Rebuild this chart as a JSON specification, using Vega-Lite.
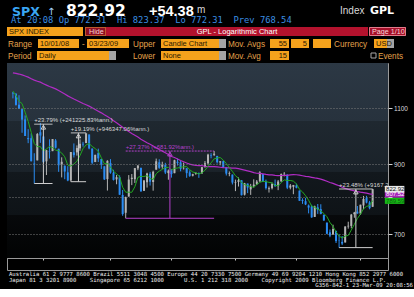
{
 "$schema": "https://vega.github.io/schema/vega-lite/v6.json",
 "background": "#000000",
 "padding": {"left": 6, "top": 0, "right": 0, "bottom": 0},
 "bounds": "flush",
 "spacing": 0,
 "config": {"view": {"stroke": null}, "font": "Liberation Sans"},
 "vconcat": [
  {
   "width": 402, "height": 63,
   "encoding": {
    "x": {"field": "x", "type": "quantitative", "scale": {"domain": [6, 408], "nice": false, "zero": false}, "axis": null},
    "y": {"field": "y", "type": "quantitative", "scale": {"domain": [0, 63], "reverse": true, "nice": false, "zero": false}, "axis": null}
   },
   "layer": [
    {
     "data": {"values": [
      {"x": 6, "x2": 82, "y": 27, "y2": 36, "k": "f"},
      {"x": 84, "x2": 105, "y": 27, "y2": 36, "k": "h"},
      {"x": 105, "x2": 367, "y": 27, "y2": 36, "k": "r"},
      {"x": 368, "x2": 405, "y": 27, "y2": 36, "k": "p"},
      {"x": 37, "x2": 78, "y": 39, "y2": 48, "k": "f"},
      {"x": 86, "x2": 128, "y": 39, "y2": 48, "k": "f"},
      {"x": 160, "x2": 218, "y": 39, "y2": 48, "k": "f"},
      {"x": 218, "x2": 225, "y": 39, "y2": 48, "k": "s"},
      {"x": 269, "x2": 288, "y": 39, "y2": 48, "k": "f"},
      {"x": 290, "x2": 308, "y": 39, "y2": 48, "k": "f"},
      {"x": 312, "x2": 330, "y": 39, "y2": 48, "k": "f"},
      {"x": 373, "x2": 386, "y": 39, "y2": 48, "k": "f"},
      {"x": 386, "x2": 393, "y": 39, "y2": 48, "k": "s"},
      {"x": 36, "x2": 108, "y": 51, "y2": 60, "k": "f"},
      {"x": 108, "x2": 115, "y": 51, "y2": 60, "k": "s"},
      {"x": 160, "x2": 218, "y": 51, "y2": 60, "k": "f"},
      {"x": 218, "x2": 225, "y": 51, "y2": 60, "k": "s"},
      {"x": 269, "x2": 288, "y": 51, "y2": 60, "k": "f"}
     ]},
     "mark": {"type": "rect"},
     "encoding": {
      "x2": {"field": "x2"}, "y2": {"field": "y2"},
      "color": {"condition": [
        {"test": "datum.k=='s'", "value": "#a4a4a4"},
        {"test": "datum.k=='r'", "value": "#b3122d"},
        {"test": "datum.k=='h'", "value": "#8c0e22"},
        {"test": "datum.k=='p'", "value": "#a50f29"}
       ], "value": "#f5a21c"}
     }
    },
    {
     "data": {"values": [{"x": 84.5, "x2": 104.5, "y": 27.5, "y2": 35.5}]},
     "mark": {"type": "rect", "filled": false, "color": "#f2a33a", "strokeDash": [1, 1], "strokeWidth": 1},
     "encoding": {"x2": {"field": "x2"}, "y2": {"field": "y2"}}
    },
    {
     "data": {"values": [{"x": 368.5, "x2": 404.5, "y": 27.5, "y2": 35.5}]},
     "mark": {"type": "rect", "filled": false, "color": "#e27a8a", "strokeWidth": 1},
     "encoding": {"x2": {"field": "x2"}, "y2": {"field": "y2"}}
    },
    {
     "data": {"values": [{"x": 370, "x2": 375, "y": 53, "y2": 58}]},
     "mark": {"type": "rect", "filled": false, "color": "#a8a8a8", "strokeWidth": 1},
     "encoding": {"x2": {"field": "x2"}, "y2": {"field": "y2"}}
    },
    {
     "data": {"values": [{"x": 11, "y": 16, "t": "SPX"}]},
     "mark": {"type": "text", "align": "left", "baseline": "alphabetic", "font": "DejaVu Sans", "fontWeight": "bold", "fontSize": 12.5, "color": "#3aa6f4"},
     "encoding": {"text": {"field": "t"}}
    },
    {
     "data": {"values": [{"x": 46, "y": 15, "t": "↑"}]},
     "mark": {"type": "text", "align": "left", "baseline": "alphabetic", "font": "DejaVu Sans", "fontSize": 10, "color": "#a6d4ff"},
     "encoding": {"text": {"field": "t"}}
    },
    {
     "data": {"values": [{"x": 65, "y": 16, "t": "822.92"}]},
     "mark": {"type": "text", "align": "left", "baseline": "alphabetic", "font": "DejaVu Sans", "fontWeight": "bold", "fontSize": 15.5, "color": "#ffffff"},
     "encoding": {"text": {"field": "t"}}
    },
    {
     "data": {"values": [{"x": 148, "y": 16, "t": "+54.38"}]},
     "mark": {"type": "text", "align": "left", "baseline": "alphabetic", "font": "Liberation Sans", "fontWeight": "bold", "fontSize": 14.5, "color": "#ffffff"},
     "encoding": {"text": {"field": "t"}}
    },
    {
     "data": {"values": [{"x": 196, "y": 13, "t": "m"}, {"x": 339, "y": 14, "t": "Index"}]},
     "mark": {"type": "text", "align": "left", "baseline": "alphabetic", "font": "Liberation Sans", "fontSize": 10, "color": "#d8d8d8"},
     "encoding": {"text": {"field": "t"}}
    },
    {
     "data": {"values": [{"x": 369, "y": 14, "t": "GPL"}]},
     "mark": {"type": "text", "align": "left", "baseline": "alphabetic", "font": "DejaVu Sans", "fontWeight": "bold", "fontSize": 11, "color": "#ffffff"},
     "encoding": {"text": {"field": "t"}}
    },
    {
     "data": {"values": [{"x": 10, "y": 23, "t": "At 20:08 Op 772.31\u00a0\u00a0Hi 823.37\u00a0\u00a0Lo 772.31\u00a0\u00a0Prev 768.54"}]},
     "mark": {"type": "text", "align": "left", "baseline": "alphabetic", "font": "DejaVu Sans Mono", "fontSize": 8.8, "color": "#3b8fe2"},
     "encoding": {"text": {"field": "t"}}
    },
    {
     "data": {"values": [
      {"x": 8, "y": 34, "t": "SPX INDEX"},
      {"x": 39, "y": 46.3, "t": "10/01/08"},
      {"x": 88, "y": 46.3, "t": "03/23/09"},
      {"x": 162, "y": 46.3, "t": "Candle Chart"},
      {"x": 375, "y": 46.3, "t": "USD"},
      {"x": 38, "y": 58.3, "t": "Daily"},
      {"x": 162, "y": 58.3, "t": "None"}
     ]},
     "mark": {"type": "text", "align": "left", "baseline": "alphabetic", "font": "Liberation Sans", "fontSize": 7.5, "color": "#2b1900"},
     "encoding": {"text": {"field": "t"}}
    },
    {
     "data": {"values": [
      {"x": 286, "y": 46.3, "t": "55"},
      {"x": 306, "y": 46.3, "t": "5"},
      {"x": 286, "y": 58.3, "t": "15"}
     ]},
     "mark": {"type": "text", "align": "right", "baseline": "alphabetic", "font": "Liberation Sans", "fontSize": 7.5, "color": "#2b1900"},
     "encoding": {"text": {"field": "t"}}
    },
    {
     "data": {"values": [{"x": 88, "y": 34, "t": "Hide"}, {"x": 371, "y": 34, "t": "Page 1/10"}]},
     "mark": {"type": "text", "align": "left", "baseline": "alphabetic", "font": "Liberation Sans", "fontSize": 7.2, "color": "#f6d6d6"},
     "encoding": {"text": {"field": "t"}}
    },
    {
     "data": {"values": [{"x": 236, "y": 34, "t": "GPL - Logarithmic Chart"}]},
     "mark": {"type": "text", "align": "center", "baseline": "alphabetic", "font": "Liberation Sans", "fontSize": 7.5, "color": "#ffffff"},
     "encoding": {"text": {"field": "t"}}
    },
    {
     "data": {"values": [
      {"x": 7, "y": 46.5, "t": "Range"},
      {"x": 81, "y": 46.5, "t": "-"},
      {"x": 132, "y": 46.5, "t": "Upper"},
      {"x": 227, "y": 46.5, "t": "Mov. Avgs"},
      {"x": 333, "y": 46.5, "t": "Currency"},
      {"x": 7, "y": 58.5, "t": "Period"},
      {"x": 132, "y": 58.5, "t": "Lower"},
      {"x": 227, "y": 58.5, "t": "Mov. Avg"},
      {"x": 377, "y": 58.5, "t": "Events"}
     ]},
     "mark": {"type": "text", "align": "left", "baseline": "alphabetic", "font": "Liberation Sans", "fontSize": 8.2, "color": "#e3a24c"},
     "encoding": {"text": {"field": "t"}}
    }
   ]
  },
  {
   "width": 381, "height": 195,
   "view": {"stroke": "#9a9a9a", "strokeWidth": 1},
   "title": {"text": "G356-842-1 23-Mar-09 20:08:56", "orient": "bottom", "anchor": "end", "frame": "group", "offset": 16, "dx": 25,
    "font": "DejaVu Sans Mono", "fontSize": 5.6, "fontWeight": "normal", "color": "#eeeeee", "baseline": "top"},
   "layer": [
    {
     "data": {"values": [{}]},
     "mark": {"type": "rect", "color": {"gradient": "linear", "x1": 0, "y1": 0, "x2": 0, "y2": 1, "stops": [
       {"offset": 0, "color": "#2c3844"},
       {"offset": 0.3, "color": "#27323d"},
       {"offset": 0.3, "color": "#1f2830"},
       {"offset": 0.56, "color": "#1a2229"},
       {"offset": 0.56, "color": "#12181d"},
       {"offset": 0.78, "color": "#0e1317"},
       {"offset": 0.78, "color": "#07090b"},
       {"offset": 1, "color": "#020303"}
     ]}},
     "encoding": {}
    },
    {
     "data": {"values": [
      {"i": -54, "d": "2008-07-16", "c": 1245.36},
      {"i": -53, "d": "2008-07-17", "c": 1260.32},
      {"i": -52, "d": "2008-07-18", "c": 1260.68},
      {"i": -51, "d": "2008-07-21", "c": 1260.00},
      {"i": -50, "d": "2008-07-22", "c": 1277.00},
      {"i": -49, "d": "2008-07-23", "c": 1282.19},
      {"i": -48, "d": "2008-07-24", "c": 1252.54},
      {"i": -47, "d": "2008-07-25", "c": 1257.76},
      {"i": -46, "d": "2008-07-28", "c": 1234.37},
      {"i": -45, "d": "2008-07-29", "c": 1263.20},
      {"i": -44, "d": "2008-07-30", "c": 1284.26},
      {"i": -43, "d": "2008-07-31", "c": 1267.38},
      {"i": -42, "d": "2008-08-01", "c": 1260.31},
      {"i": -41, "d": "2008-08-04", "c": 1249.01},
      {"i": -40, "d": "2008-08-05", "c": 1284.88},
      {"i": -39, "d": "2008-08-06", "c": 1289.19},
      {"i": -38, "d": "2008-08-07", "c": 1266.07},
      {"i": -37, "d": "2008-08-08", "c": 1296.32},
      {"i": -36, "d": "2008-08-11", "c": 1305.32},
      {"i": -35, "d": "2008-08-12", "c": 1289.59},
      {"i": -34, "d": "2008-08-13", "c": 1285.83},
      {"i": -33, "d": "2008-08-14", "c": 1292.93},
      {"i": -32, "d": "2008-08-15", "c": 1298.20},
      {"i": -31, "d": "2008-08-18", "c": 1278.60},
      {"i": -30, "d": "2008-08-19", "c": 1266.69},
      {"i": -29, "d": "2008-08-20", "c": 1274.54},
      {"i": -28, "d": "2008-08-21", "c": 1277.72},
      {"i": -27, "d": "2008-08-22", "c": 1292.20},
      {"i": -26, "d": "2008-08-25", "c": 1266.84},
      {"i": -25, "d": "2008-08-26", "c": 1271.51},
      {"i": -24, "d": "2008-08-27", "c": 1281.66},
      {"i": -23, "d": "2008-08-28", "c": 1300.68},
      {"i": -22, "d": "2008-08-29", "c": 1282.83},
      {"i": -21, "d": "2008-09-02", "c": 1277.58},
      {"i": -20, "d": "2008-09-03", "c": 1274.98},
      {"i": -19, "d": "2008-09-04", "c": 1236.83},
      {"i": -18, "d": "2008-09-05", "c": 1242.31},
      {"i": -17, "d": "2008-09-08", "c": 1267.79},
      {"i": -16, "d": "2008-09-09", "c": 1224.51},
      {"i": -15, "d": "2008-09-10", "c": 1232.04},
      {"i": -14, "d": "2008-09-11", "c": 1249.05},
      {"i": -13, "d": "2008-09-12", "c": 1251.70},
      {"i": -12, "d": "2008-09-15", "c": 1192.70},
      {"i": -11, "d": "2008-09-16", "c": 1213.60},
      {"i": -10, "d": "2008-09-17", "c": 1156.39},
      {"i": -9, "d": "2008-09-18", "c": 1206.51},
      {"i": -8, "d": "2008-09-19", "c": 1255.08},
      {"i": -7, "d": "2008-09-22", "c": 1207.09},
      {"i": -6, "d": "2008-09-23", "c": 1188.22},
      {"i": -5, "d": "2008-09-24", "c": 1185.87},
      {"i": -4, "d": "2008-09-25", "c": 1209.18},
      {"i": -3, "d": "2008-09-26", "c": 1213.27},
      {"i": -2, "d": "2008-09-29", "c": 1106.39},
      {"i": -1, "d": "2008-09-30", "c": 1166.36},
      {"i": 0, "d": "2008-10-01", "o": 1164.17, "h": 1167.03, "l": 1140.77, "c": 1161.06},
      {"i": 1, "d": "2008-10-02", "o": 1160.64, "h": 1160.64, "l": 1111.43, "c": 1114.28},
      {"i": 2, "d": "2008-10-03", "o": 1115.16, "h": 1153.82, "l": 1098.14, "c": 1099.23},
      {"i": 3, "d": "2008-10-06", "o": 1097.56, "h": 1097.56, "l": 1007.97, "c": 1056.89},
      {"i": 4, "d": "2008-10-07", "o": 1057.60, "h": 1072.91, "l": 996.23, "c": 996.23},
      {"i": 5, "d": "2008-10-08", "o": 988.91, "h": 1021.06, "l": 970.97, "c": 984.94},
      {"i": 6, "d": "2008-10-09", "o": 988.42, "h": 1005.25, "l": 909.19, "c": 909.92},
      {"i": 7, "d": "2008-10-10", "o": 902.31, "h": 936.36, "l": 839.80, "c": 899.22},
      {"i": 8, "d": "2008-10-13", "o": 912.75, "h": 1006.93, "l": 912.75, "c": 1003.35},
      {"i": 9, "d": "2008-10-14", "o": 1009.97, "h": 1044.31, "l": 972.07, "c": 998.01},
      {"i": 10, "d": "2008-10-15", "o": 994.60, "h": 994.60, "l": 903.99, "c": 907.84},
      {"i": 11, "d": "2008-10-16", "o": 909.53, "h": 947.71, "l": 865.83, "c": 946.43},
      {"i": 12, "d": "2008-10-17", "o": 942.29, "h": 984.64, "l": 918.74, "c": 940.55},
      {"i": 13, "d": "2008-10-20", "o": 943.51, "h": 985.40, "l": 943.51, "c": 985.40},
      {"i": 14, "d": "2008-10-21", "o": 980.40, "h": 985.44, "l": 952.47, "c": 955.05},
      {"i": 15, "d": "2008-10-22", "o": 951.67, "h": 951.67, "l": 875.81, "c": 896.78},
      {"i": 16, "d": "2008-10-23", "o": 899.08, "h": 922.83, "l": 858.44, "c": 908.11},
      {"i": 17, "d": "2008-10-24", "o": 895.22, "h": 896.30, "l": 852.85, "c": 876.77},
      {"i": 18, "d": "2008-10-27", "o": 874.28, "h": 893.78, "l": 846.75, "c": 848.92},
      {"i": 19, "d": "2008-10-28", "o": 848.92, "h": 940.51, "l": 845.27, "c": 940.51},
      {"i": 20, "d": "2008-10-29", "o": 939.51, "h": 969.97, "l": 922.26, "c": 930.09},
      {"i": 21, "d": "2008-10-30", "o": 939.38, "h": 963.23, "l": 928.50, "c": 954.09},
      {"i": 22, "d": "2008-10-31", "o": 953.11, "h": 984.38, "l": 944.59, "c": 968.75},
      {"i": 23, "d": "2008-11-03", "o": 968.67, "h": 975.57, "l": 958.82, "c": 966.30},
      {"i": 24, "d": "2008-11-04", "o": 971.31, "h": 1007.51, "l": 971.31, "c": 1005.75},
      {"i": 25, "d": "2008-11-05", "o": 1001.84, "h": 1001.84, "l": 949.86, "c": 952.77},
      {"i": 26, "d": "2008-11-06", "o": 952.40, "h": 952.40, "l": 899.73, "c": 904.88},
      {"i": 27, "d": "2008-11-07", "o": 907.44, "h": 931.46, "l": 906.90, "c": 930.99},
      {"i": 28, "d": "2008-11-10", "o": 936.75, "h": 951.95, "l": 907.47, "c": 919.21},
      {"i": 29, "d": "2008-11-11", "o": 917.15, "h": 917.15, "l": 884.90, "c": 898.95},
      {"i": 30, "d": "2008-11-12", "o": 893.39, "h": 893.39, "l": 850.48, "c": 852.30},
      {"i": 31, "d": "2008-11-13", "o": 853.13, "h": 913.01, "l": 818.69, "c": 911.29},
      {"i": 32, "d": "2008-11-14", "o": 904.36, "h": 916.88, "l": 869.88, "c": 873.29},
      {"i": 33, "d": "2008-11-17", "o": 873.23, "h": 882.29, "l": 848.98, "c": 850.75},
      {"i": 34, "d": "2008-11-18", "o": 852.34, "h": 865.90, "l": 837.54, "c": 859.12},
      {"i": 35, "d": "2008-11-19", "o": 859.03, "h": 864.57, "l": 806.18, "c": 806.58},
      {"i": 36, "d": "2008-11-20", "o": 805.87, "h": 820.52, "l": 747.78, "c": 752.44},
      {"i": 37, "d": "2008-11-21", "o": 755.84, "h": 801.20, "l": 741.02, "c": 800.03},
      {"i": 38, "d": "2008-11-24", "o": 801.20, "h": 865.60, "l": 801.20, "c": 851.81},
      {"i": 39, "d": "2008-11-25", "o": 853.40, "h": 868.94, "l": 834.99, "c": 857.39},
      {"i": 40, "d": "2008-11-26", "o": 852.90, "h": 887.68, "l": 841.37, "c": 887.68},
      {"i": 41, "d": "2008-11-28", "o": 886.89, "h": 896.25, "l": 881.21, "c": 896.24},
      {"i": 42, "d": "2008-12-01", "o": 888.61, "h": 888.61, "l": 815.69, "c": 816.21},
      {"i": 43, "d": "2008-12-02", "o": 817.94, "h": 850.54, "l": 817.94, "c": 848.81},
      {"i": 44, "d": "2008-12-03", "o": 843.60, "h": 873.12, "l": 827.60, "c": 870.74},
      {"i": 45, "d": "2008-12-04", "o": 869.75, "h": 875.60, "l": 833.60, "c": 845.22},
      {"i": 46, "d": "2008-12-05", "o": 844.43, "h": 879.42, "l": 818.41, "c": 876.07},
      {"i": 47, "d": "2008-12-08", "o": 882.71, "h": 918.57, "l": 882.71, "c": 909.70},
      {"i": 48, "d": "2008-12-09", "o": 906.48, "h": 916.26, "l": 885.38, "c": 888.67},
      {"i": 49, "d": "2008-12-10", "o": 892.17, "h": 908.27, "l": 885.45, "c": 899.24},
      {"i": 50, "d": "2008-12-11", "o": 898.35, "h": 904.63, "l": 868.73, "c": 873.59},
      {"i": 51, "d": "2008-12-12", "o": 871.79, "h": 883.24, "l": 851.35, "c": 879.73},
      {"i": 52, "d": "2008-12-15", "o": 881.07, "h": 884.63, "l": 857.72, "c": 868.57},
      {"i": 53, "d": "2008-12-16", "o": 871.53, "h": 914.66, "l": 871.53, "c": 913.18},
      {"i": 54, "d": "2008-12-17", "o": 908.16, "h": 918.85, "l": 895.94, "c": 904.42},
      {"i": 55, "d": "2008-12-18", "o": 905.98, "h": 911.02, "l": 877.44, "c": 885.28},
      {"i": 56, "d": "2008-12-19", "o": 886.96, "h": 905.47, "l": 883.02, "c": 887.88},
      {"i": 57, "d": "2008-12-22", "o": 887.20, "h": 887.37, "l": 857.09, "c": 871.63},
      {"i": 58, "d": "2008-12-23", "o": 874.31, "h": 880.44, "l": 860.10, "c": 863.16},
      {"i": 59, "d": "2008-12-24", "o": 863.87, "h": 869.79, "l": 861.44, "c": 868.15},
      {"i": 60, "d": "2008-12-26", "o": 869.51, "h": 873.74, "l": 866.52, "c": 872.80},
      {"i": 61, "d": "2008-12-29", "o": 872.37, "h": 873.70, "l": 857.07, "c": 869.42},
      {"i": 62, "d": "2008-12-30", "o": 870.58, "h": 891.12, "l": 870.58, "c": 890.64},
      {"i": 63, "d": "2008-12-31", "o": 890.59, "h": 910.32, "l": 889.67, "c": 903.25},
      {"i": 64, "d": "2009-01-02", "o": 902.99, "h": 934.73, "l": 899.35, "c": 931.80},
      {"i": 65, "d": "2009-01-05", "o": 929.17, "h": 936.63, "l": 919.53, "c": 927.45},
      {"i": 66, "d": "2009-01-06", "o": 931.17, "h": 943.85, "l": 927.28, "c": 934.70},
      {"i": 67, "d": "2009-01-07", "o": 927.45, "h": 927.45, "l": 902.37, "c": 906.65},
      {"i": 68, "d": "2009-01-08", "o": 905.73, "h": 910.00, "l": 896.81, "c": 909.73},
      {"i": 69, "d": "2009-01-09", "o": 909.91, "h": 911.93, "l": 888.31, "c": 890.35},
      {"i": 70, "d": "2009-01-12", "o": 890.40, "h": 890.40, "l": 864.32, "c": 870.26},
      {"i": 71, "d": "2009-01-13", "o": 869.79, "h": 877.02, "l": 862.02, "c": 871.79},
      {"i": 72, "d": "2009-01-14", "o": 867.28, "h": 867.28, "l": 836.93, "c": 842.62},
      {"i": 73, "d": "2009-01-15", "o": 841.99, "h": 851.59, "l": 817.04, "c": 843.74},
      {"i": 74, "d": "2009-01-16", "o": 844.45, "h": 858.13, "l": 830.66, "c": 850.12},
      {"i": 75, "d": "2009-01-20", "o": 849.64, "h": 849.64, "l": 804.47, "c": 805.22},
      {"i": 76, "d": "2009-01-21", "o": 806.77, "h": 841.72, "l": 804.30, "c": 840.24},
      {"i": 77, "d": "2009-01-22", "o": 839.74, "h": 839.74, "l": 811.29, "c": 827.50},
      {"i": 78, "d": "2009-01-23", "o": 822.16, "h": 838.61, "l": 806.07, "c": 831.95},
      {"i": 79, "d": "2009-01-26", "o": 832.50, "h": 852.53, "l": 827.69, "c": 836.57},
      {"i": 80, "d": "2009-01-27", "o": 837.30, "h": 850.45, "l": 835.40, "c": 845.71},
      {"i": 81, "d": "2009-01-28", "o": 845.73, "h": 877.86, "l": 845.73, "c": 874.09},
      {"i": 82, "d": "2009-01-29", "o": 868.89, "h": 868.89, "l": 844.15, "c": 845.14},
      {"i": 83, "d": "2009-01-30", "o": 845.69, "h": 851.66, "l": 821.67, "c": 825.88},
      {"i": 84, "d": "2009-02-02", "o": 823.09, "h": 830.78, "l": 812.87, "c": 825.44},
      {"i": 85, "d": "2009-02-03", "o": 825.69, "h": 842.60, "l": 821.98, "c": 838.51},
      {"i": 86, "d": "2009-02-04", "o": 837.77, "h": 851.85, "l": 829.18, "c": 832.23},
      {"i": 87, "d": "2009-02-05", "o": 831.75, "h": 850.55, "l": 819.91, "c": 845.85},
      {"i": 88, "d": "2009-02-06", "o": 846.09, "h": 870.75, "l": 845.42, "c": 868.60},
      {"i": 89, "d": "2009-02-09", "o": 868.24, "h": 875.01, "l": 861.65, "c": 869.89},
      {"i": 90, "d": "2009-02-10", "o": 866.87, "h": 868.05, "l": 822.99, "c": 827.16},
      {"i": 91, "d": "2009-02-11", "o": 827.41, "h": 838.22, "l": 822.30, "c": 833.74},
      {"i": 92, "d": "2009-02-12", "o": 829.91, "h": 835.48, "l": 808.06, "c": 835.19},
      {"i": 93, "d": "2009-02-13", "o": 833.95, "h": 839.43, "l": 825.21, "c": 826.84},
      {"i": 94, "d": "2009-02-17", "o": 818.61, "h": 818.61, "l": 789.17, "c": 789.17},
      {"i": 95, "d": "2009-02-18", "o": 791.06, "h": 796.17, "l": 780.43, "c": 788.42},
      {"i": 96, "d": "2009-02-19", "o": 787.91, "h": 797.58, "l": 777.03, "c": 778.94},
      {"i": 97, "d": "2009-02-20", "o": 775.87, "h": 778.69, "l": 754.25, "c": 770.05},
      {"i": 98, "d": "2009-02-23", "o": 773.25, "h": 777.85, "l": 742.37, "c": 743.33},
      {"i": 99, "d": "2009-02-24", "o": 744.69, "h": 775.49, "l": 744.69, "c": 773.14},
      {"i": 100, "d": "2009-02-25", "o": 770.64, "h": 780.12, "l": 752.89, "c": 764.90},
      {"i": 101, "d": "2009-02-26", "o": 765.76, "h": 779.42, "l": 751.75, "c": 752.83},
      {"i": 102, "d": "2009-02-27", "o": 749.93, "h": 751.27, "l": 734.52, "c": 735.09},
      {"i": 103, "d": "2009-03-02", "o": 729.57, "h": 729.57, "l": 699.70, "c": 700.82},
      {"i": 104, "d": "2009-03-03", "o": 704.44, "h": 711.67, "l": 692.30, "c": 696.33},
      {"i": 105, "d": "2009-03-04", "o": 698.60, "h": 724.12, "l": 698.60, "c": 712.87},
      {"i": 106, "d": "2009-03-05", "o": 708.27, "h": 708.27, "l": 677.93, "c": 682.55},
      {"i": 107, "d": "2009-03-06", "o": 684.04, "h": 699.09, "l": 666.79, "c": 683.38},
      {"i": 108, "d": "2009-03-09", "o": 680.76, "h": 695.27, "l": 672.88, "c": 676.53},
      {"i": 109, "d": "2009-03-10", "o": 679.28, "h": 719.60, "l": 679.28, "c": 719.60},
      {"i": 110, "d": "2009-03-11", "o": 719.59, "h": 731.92, "l": 713.85, "c": 721.36},
      {"i": 111, "d": "2009-03-12", "o": 720.89, "h": 752.63, "l": 714.76, "c": 750.74},
      {"i": 112, "d": "2009-03-13", "o": 751.97, "h": 758.29, "l": 742.46, "c": 756.55},
      {"i": 113, "d": "2009-03-16", "o": 758.84, "h": 774.53, "l": 753.37, "c": 753.89},
      {"i": 114, "d": "2009-03-17", "o": 753.88, "h": 778.12, "l": 749.93, "c": 778.12},
      {"i": 115, "d": "2009-03-18", "o": 776.01, "h": 803.04, "l": 765.64, "c": 794.35},
      {"i": 116, "d": "2009-03-19", "o": 797.92, "h": 803.24, "l": 781.82, "c": 784.04},
      {"i": 117, "d": "2009-03-20", "o": 784.58, "h": 788.91, "l": 765.32, "c": 768.54},
      {"i": 118, "d": "2009-03-23", "o": 772.31, "h": 823.37, "l": 772.31, "c": 822.92}
     ]},
     "transform": [
      {"window": [{"op": "mean", "field": "c", "as": "s5"}], "frame": [-4, 0], "sort": [{"field": "i", "order": "ascending"}]},
      {"window": [{"op": "mean", "field": "c", "as": "s55"}], "frame": [-54, 0], "sort": [{"field": "i", "order": "ascending"}]},
      {"filter": "datum.i >= 0"}
     ],
     "encoding": {
      "x": {"field": "i", "type": "quantitative",
       "scale": {"domain": [-0.3, 121.4], "nice": false, "zero": false},
       "axis": {"orient": "bottom", "title": null, "domain": false,
        "values": [10, 22, 32, 41, 52, 63, 73, 83, 93, 102, 114],
        "labelExpr": "datum.value == 22 ? 'Oct 31' : datum.value == 41 ? 'Nov 28' : datum.value == 63 ? ['Dec 31', '2008'] : datum.value == 83 ? 'Jan 30' : datum.value == 102 ? 'Feb 27' : ''",
        "tickSize": 2, "tickColor": "#c8c8c8",
        "tickOpacity": {"condition": {"test": "indexof([22, 41, 63, 83, 102], datum.value) < 0", "value": 1}, "value": 0},
        "grid": true, "gridColor": "#7c7c7c", "gridDash": [1, 2],
        "gridOpacity": {"condition": {"test": "indexof([22, 41, 63, 83, 102], datum.value) >= 0", "value": 1}, "value": 0},
        "labelFont": "Liberation Sans", "labelFontSize": 5.5, "labelColor": "#d4d4d4", "labelPadding": 1, "labelLineHeight": 7,
        "labelOverlap": false, "labelFlush": false, "zindex": 1}}
     },
     "layer": [
      {
       "mark": {"type": "rule", "strokeWidth": 1},
       "encoding": {
        "y": {"field": "l", "type": "quantitative",
         "scale": {"type": "log", "domain": [654, 1272.5], "nice": false},
         "axis": {"orient": "right", "title": null, "domain": false, "values": [700, 800, 900, 1100], "format": "d",
          "labelExpr": "datum.value == 800 ? '' : datum.label",
          "tickSize": 4, "tickColor": "#d0d0d0", "grid": true, "gridColor": "#7c7c7c", "gridDash": [1, 2],
          "labelFont": "Liberation Sans", "labelFontSize": 6.5, "labelColor": "#d8d8d8", "labelPadding": 1.5, "zindex": 1}},
        "y2": {"field": "h"},
        "color": {"condition": {"test": "datum.c < datum.o", "value": "#2a8cf2"}, "value": "#b5b5b5"}
       }
      },
      {
       "mark": {"type": "bar", "width": 2},
       "encoding": {
        "y": {"field": "o", "type": "quantitative"},
        "y2": {"field": "c"},
        "color": {"condition": {"test": "datum.c < datum.o", "value": "#2a8cf2"}, "value": "#b5b5b5"}
       }
      },
      {
       "mark": {"type": "line", "color": "#b02cc4", "strokeWidth": 1.2},
       "encoding": {"y": {"field": "s55", "type": "quantitative"}}
      },
      {
       "mark": {"type": "line", "color": "#22a822", "strokeWidth": 1},
       "encoding": {"y": {"field": "s5", "type": "quantitative"}}
      }
     ]
    },
    {
     "data": {"values": [
      {"g": "w", "x1": 7, "x2": 13, "m": 10, "lo": 839.80, "hi": 1039.6, "t": "+23.79% (+241225.83%ann.)"},
      {"g": "w", "x1": 19, "x2": 24, "m": 21.5, "lo": 845.27, "hi": 1007.51, "t": "+19.19% (+946347.06%ann.)"},
      {"g": "m", "x1": 37, "x2": 66, "m": 51.5, "lo": 741.02, "hi": 943.85, "t": "+27.37% (+681.92%ann.)"},
      {"g": "w", "x1": 107, "x2": 118, "m": 112.5, "lo": 666.79, "hi": 823.37, "t": "+23.48% (+9167.21%ann.)"}
     ]},
     "layer": [
      {
       "mark": {"type": "rule", "strokeWidth": 1},
       "encoding": {
        "x": {"field": "x1", "type": "quantitative"}, "x2": {"field": "x2"},
        "y": {"field": "hi", "type": "quantitative"},
        "color": {"condition": {"test": "datum.g == 'm'", "value": "#b440cc"}, "value": "#cfcfcf"},
        "strokeDash": {"condition": {"test": "datum.g == 'm'", "value": [2, 1]}, "value": [1, 0]}
       }
      },
      {
       "mark": {"type": "rule", "strokeWidth": 1},
       "encoding": {
        "x": {"field": "x1", "type": "quantitative"}, "x2": {"field": "x2"},
        "y": {"field": "lo", "type": "quantitative"},
        "color": {"condition": {"test": "datum.g == 'm'", "value": "#b440cc"}, "value": "#cfcfcf"}
       }
      },
      {
       "mark": {"type": "rule", "strokeWidth": 1},
       "encoding": {
        "x": {"field": "m", "type": "quantitative"},
        "y": {"field": "lo", "type": "quantitative"}, "y2": {"field": "hi"},
        "color": {"condition": {"test": "datum.g == 'm'", "value": "#b440cc"}, "value": "#cfcfcf"}
       }
      },
      {
       "mark": {"type": "point", "shape": "triangle-up", "filled": false, "size": 20, "strokeWidth": 1, "yOffset": 3, "opacity": 1},
       "encoding": {
        "x": {"field": "m", "type": "quantitative"},
        "y": {"field": "hi", "type": "quantitative"},
        "color": {"condition": {"test": "datum.g == 'm'", "value": "#b440cc"}, "value": "#cfcfcf"}
       }
      },
      {
       "mark": {"type": "text", "align": "left", "baseline": "alphabetic", "dy": -2, "font": "Liberation Sans", "fontSize": 6, "clip": true},
       "encoding": {
        "x": {"field": "x1", "type": "quantitative"},
        "y": {"field": "hi", "type": "quantitative"},
        "text": {"field": "t"},
        "color": {"condition": {"test": "datum.g == 'm'", "value": "#b440cc"}, "value": "#d8d8d8"}
       }
      }
     ]
    },
    {
     "data": {"values": [
      {"k": "s5", "v": 789.59, "t": "789.59"},
      {"k": "s55", "v": 807.52, "t": "807.52"},
      {"k": "last", "v": 822.92, "t": "822.92"}
     ]},
     "layer": [
      {
       "mark": {"type": "bar", "height": 6.5},
       "encoding": {
        "x": {"datum": 122.0, "type": "quantitative"}, "x2": {"datum": 128.4},
        "y": {"field": "v", "type": "quantitative"},
        "color": {"condition": [{"test": "datum.k == 'last'", "value": "#e8e8e8"}, {"test": "datum.k == 's55'", "value": "#a626b8"}], "value": "#16b816"}
       }
      },
      {
       "mark": {"type": "text", "align": "left", "baseline": "middle", "font": "Liberation Sans", "fontSize": 6},
       "encoding": {
        "x": {"datum": 122.4, "type": "quantitative"},
        "y": {"field": "v", "type": "quantitative"},
        "text": {"field": "t"},
        "color": {"condition": [{"test": "datum.k == 'last'", "value": "#111111"}, {"test": "datum.k == 's55'", "value": "#ffffff"}], "value": "#0d5e0d"}
       }
      }
     ]
    }
   ]
  },
  {
   "width": 381, "height": 12,
   "view": {"stroke": "#9a9a9a", "strokeWidth": 1},
   "title": {
    "text": [
     "Australia 61 2 9777 8600 Brazil 5511 3048 4500 Europe 44 20 7330 7500 Germany 49 69 9204 1210 Hong Kong 852 2977 6000",
     "Japan 81 3 3201 8900\u00a0\u00a0\u00a0\u00a0Singapore 65 6212 1000\u00a0\u00a0\u00a0\u00a0\u00a0\u00a0U.S. 1 212 318 2000\u00a0\u00a0\u00a0\u00a0Copyright 2009 Bloomberg Finance L.P."
    ],
    "orient": "bottom", "anchor": "start", "frame": "group", "offset": 2, "dx": 2,
    "font": "DejaVu Sans Mono", "fontSize": 5.6, "fontWeight": "normal", "color": "#eeeeee", "lineHeight": 5.6
   },
   "data": {"values": [{}]},
   "mark": {"type": "rule", "opacity": 0},
   "encoding": {}
  }
 ]
}
